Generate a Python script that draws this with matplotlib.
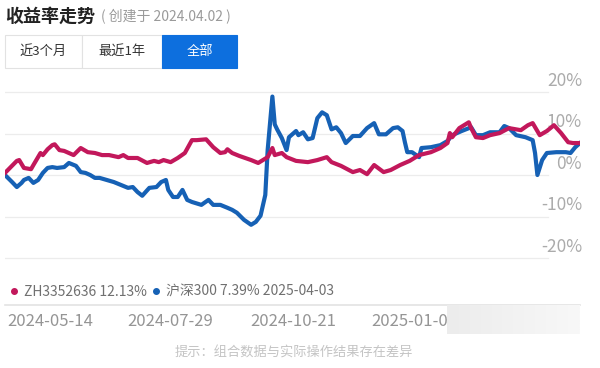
import matplotlib
matplotlib.use("Agg")
import matplotlib.pyplot as plt
import numpy as np
from matplotlib.patches import Rectangle
from matplotlib.lines import Line2D
from matplotlib.colors import LinearSegmentedColormap
from matplotlib.transforms import blended_transform_factory

plt.rcParams['font.family'] = ['Noto Sans CJK SC', 'DejaVu Sans']

# trading-day index and cumulative return (%)
zh_t = [0, 5, 6, 8, 11, 12, 15, 16, 18, 20, 21, 23, 25, 27, 29, 32, 35, 38, 41, 44,
        48, 50, 52, 56, 60, 63, 65, 67, 70, 73, 76, 79, 81, 85, 88, 91, 93, 94, 96, 99,
        104, 107, 109, 111, 113, 114, 117, 119, 123, 128, 132, 136, 138, 142, 147, 150,
        153, 156, 160, 163, 167, 171, 175, 180, 184, 187, 188, 189, 192, 196, 197, 199,
        202, 205, 209, 213, 218, 221, 223, 226, 229, 232, 235, 238, 240, 243]
zh_v = [0.5, 3.4, 3.6, 1.7, 1.4, 2.4, 5.3, 4.8, 6.2, 7.2, 7.4, 6.0, 5.8, 5.3, 4.8, 6.5, 5.5, 5.3, 4.8, 4.8,
        4.3, 4.8, 4.1, 4.1, 2.9, 3.4, 3.1, 3.6, 3.1, 4.1, 5.3, 8.4, 8.4, 8.6, 6.7, 5.3, 5.5, 6.2, 5.3, 4.6,
        3.6, 2.9, 3.6, 4.3, 6.5, 4.8, 5.3, 4.3, 3.4, 3.1, 3.6, 4.3, 3.1, 2.2, 0.7, 1.2,
        0.2, 2.4, 0.7, 1.2, 2.4, 3.4, 4.8, 5.5, 6.5, 7.7, 10.1, 9.1, 11.3, 12.7, 11.3, 9.1,
        8.9, 9.6, 10.1, 11.3, 10.8, 12.0, 12.5, 9.6, 10.6, 12.0, 10.1, 7.9, 7.7, 7.7]

hs_t = [0, 3, 5, 7, 8, 10, 12, 14, 16, 18, 20, 22, 25, 27, 30, 32, 34, 36, 38, 40,
        43, 46, 49, 52, 54, 56, 58, 61, 64, 66, 68, 69, 71, 73, 75, 77, 79, 83, 86, 88,
        91, 94, 96, 98, 101, 104, 106, 108, 110, 111, 113, 114, 115, 117, 119, 120, 123,
        124, 126, 128, 130, 132, 134, 136, 138, 140, 142, 144, 147, 150, 153, 156, 158,
        161, 164, 166, 168, 169, 170, 172, 175, 176, 180, 184, 187, 189, 193, 197, 199,
        202, 205, 209, 211, 213, 216, 220, 223, 224, 225, 227, 229, 233, 237, 239, 241, 243]
hs_v = [0.0, -1.7, -2.9, -1.9, -1.2, -0.7, -1.9, -1.2, 0.5, 1.7, 1.9, 1.7, 1.9, 2.9, 2.2, 0.7, 0.5, 0.0, -0.7, -0.7,
        -1.2, -1.7, -2.4, -3.1, -2.9, -4.1, -5.0, -3.1, -2.9, -1.7, -1.2, -3.6, -5.3, -5.3, -3.6, -6.0, -6.5, -7.2, -6.0, -7.2,
        -7.2, -7.9, -8.4, -9.1, -10.8, -12.0, -11.3, -9.8, -4.8, 6.0, 18.9, 12.2, 11.0, 8.9, 6.0, 9.1, 10.6,
        9.6, 10.3, 8.6, 8.9, 13.7, 15.1, 14.4, 11.0, 11.5, 10.1, 7.7, 9.4, 9.4, 11.3, 12.5, 9.8,
        9.8, 11.3, 11.5, 10.6, 7.9, 5.5, 5.5, 4.3, 6.5, 6.7, 7.2, 8.2, 9.6, 10.6, 11.5, 9.6,
        9.6, 10.3, 10.3, 11.8, 11.3, 9.6, 9.1, 8.4, 5.3, 0.0, 3.6, 5.3, 5.5, 5.5, 5.3, 6.7, 7.7]

y_ticks = [20, 10, 0, -10, -20]
date_pos = [19, 70, 122, 173]
date_labels = ['2024-05-14', '2024-07-29', '2024-10-21', '2025-01-06']
buttons = ['近3个月', '最近1年', '全部']

red = '#c2185b'
blue = '#1661b5'
W, H = 600, 368

fig = plt.figure(figsize=(6, 3.68), dpi=100)
ax = fig.add_axes([5 / W, 1 - 265 / H, 575 / W, 185 / H])
ax.set_xlim(0, 243)
ax.set_ylim((175 - 265) / 4.15, (175 - 80) / 4.15)
ax.axis('off')

yt = blended_transform_factory(fig.transFigure, ax.transData)
for v in y_ticks:
    ax.axhline(v, xmin=0, xmax=(548 - 5) / 575, color='#ececec', lw=0.9, zorder=0)
    ax.text(582 / W, v + 2.7, f'{v}%', transform=yt, ha='right', va='center',
            fontsize=12.5, color='#ababab', clip_on=False)

ax.plot(hs_t, hs_v, color=blue, lw=3, solid_joinstyle='round', zorder=2)
ax.plot(zh_t, zh_v, color=red, lw=3, solid_joinstyle='round', zorder=3)

# title
fig.text(5 / W, 1 - 16 / H, '收益率走势', fontsize=13, fontweight='bold', color='#222222', va='center')
fig.text(101 / W, 1 - 17 / H, '( 创建于 2024.04.02 )', fontsize=10, color='#9a9a9a', va='center')

# range buttons
edges = [5, 82, 162, 237]
for i, lab in enumerate(buttons):
    x0, x1 = edges[i], edges[i + 1]
    active = i == 2
    fig.add_artist(Rectangle((x0 / W, 1 - 68 / H), (x1 - x0) / W, 33 / H, transform=fig.transFigure,
                             facecolor='#0d6fde' if active else 'white',
                             edgecolor='#0d6fde' if active else '#e2e2e2', lw=0.8))
    fig.text((x0 + x1) / 2 / W, 1 - 51.5 / H, lab, ha='center', va='center', fontsize=9.5,
             color='white' if active else '#333333')

# legend
handles = [Line2D([], [], marker='o', color=red, linestyle='None', markersize=4),
           Line2D([], [], marker='o', color=blue, linestyle='None', markersize=4)]
fig.legend(handles, ['ZH3352636 12.13%', '沪深300 7.39% 2025-04-03'], loc='center left',
           bbox_to_anchor=(10 / W, 1 - 292 / H), ncol=2, frameon=False, fontsize=10,
           labelcolor='#707070', handlelength=0.6, handletextpad=0.4, columnspacing=0.4,
           borderpad=0, borderaxespad=0)

fig.add_artist(Line2D([5 / W, 580 / W], [1 - 305 / H, 1 - 305 / H], transform=fig.transFigure,
                      color='#e3e3e3', lw=1.2))

xt = blended_transform_factory(ax.transData, fig.transFigure)
for p, lab in zip(date_pos, date_labels):
    ax.text(p, 1 - 322 / H, lab, transform=xt, ha='center', va='center', fontsize=12,
            color='#959595', clip_on=False)

# faded overlay at bottom right
ov = fig.add_axes([447 / W, 1 - 334 / H, 133 / W, 29 / H], zorder=5)
grad = np.linspace(0, 1, 100).reshape(1, -1)
cm = LinearSegmentedColormap.from_list('fade', ['#ececec', '#f2f2f2', '#f8f8f8'])
ov.imshow(grad, aspect='auto', cmap=cm, extent=[0, 1, 0, 1])
ov.axis('off')

fig.text(294 / W, 1 - 353 / H, '提示：组合数据与实际操作结果存在差异', ha='center', va='center',
         fontsize=9.5, color='#c4c4c4')

fig.savefig('out.png', dpi=100, facecolor='white')
